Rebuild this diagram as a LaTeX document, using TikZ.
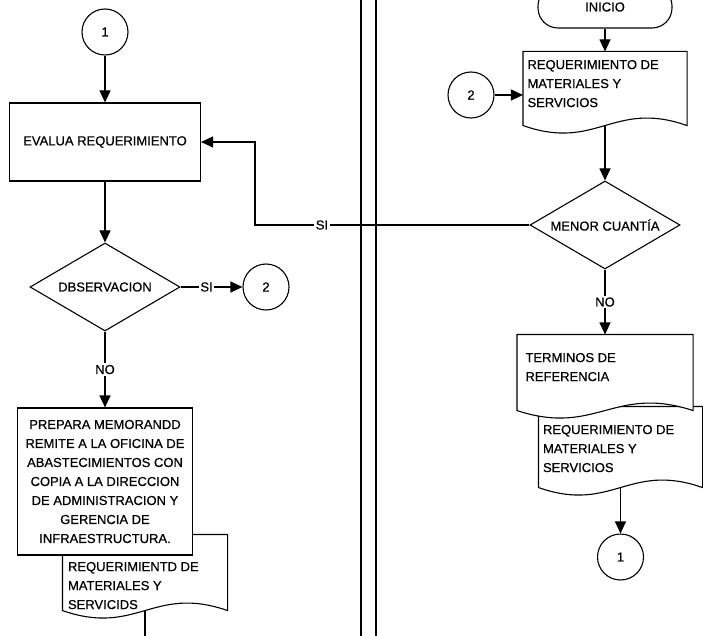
\documentclass[tikz,border=0pt]{standalone}
\usepackage{fontspec}
\setmainfont{Liberation Sans}[FakeBold=0.6]
\usetikzlibrary{shapes.geometric,arrows.meta,calc}

% document symbol drawn round an (empty) named node
\newcommand{\docshape}[1]{%
  \draw[docline] (#1.south west) -- (#1.north west) -- (#1.north east) -- (#1.south east)
    .. controls ($(#1.south east)!0.45!(#1.south west)+(0,-26)$)
    and ($(#1.south west)!0.45!(#1.south east)+(0,26)$) .. (#1.south west) -- cycle;}

\begin{document}
\begin{tikzpicture}[x=1pt, y=-1pt, line width=1.1pt,
    font=\fontsize{13}{19}\selectfont,
    arr/.style={-{Triangle[length=12pt,width=11pt]}},
    con/.style={draw, circle, minimum size=46, inner sep=0pt},
    box/.style={draw, fill=white, rectangle, inner sep=0pt},
    dec/.style={draw, fill=white, diamond, aspect=1.7, inner sep=0pt, minimum width=150, minimum height=88},
    term/.style={draw, rectangle, rounded corners=20pt, minimum width=134, minimum height=42, inner sep=0pt},
    docbox/.style={rectangle, inner sep=0pt},
    docline/.style={draw, fill=white},
    doctxt/.style={anchor=north west, inner sep=0pt, align=left},
    lbl/.style={fill=white, inner sep=1.5pt},
    lane/.style={line width=2.4pt}]
            \useasboundingbox (0,0) rectangle (703,636);
            \clip (0,0) rectangle (703,636);

            % Lanes
            \draw[lane] (361,-10) -- (361,650);
            \draw[lane] (376,-10) -- (376,650);

            % Left lane
            \node[con] (c1a) at (105,32) {1};
            \node[box, minimum width=191, minimum height=78] (evalua) at (105,142) {EVALUA REQUERIMIENTO};
            \node[dec] (obs) at (105,287) {DBSERVACION};
            \node[con] (c2a) at (266,287) {2};
            \node[docbox, minimum width=164, minimum height=75] (memo) at (145,572.5) {};
            \docshape{memo}
            \node[doctxt] (memot) at ([shift={(5,27)}]memo.north west) {REQUERIMIENTD DE\\MATERIALES Y\\SERVICIDS};
            \node[box, minimum width=175, minimum height=147, align=center] (prepara) at (105,481.5)
                {PREPARA MEMORANDD\\REMITE A LA OFICINA DE\\ABASTECIMIENTOS CON\\COPIA A LA DIRECCION\\DE ADMINISTRACION Y\\GERENCIA DE\\INFRAESTRUCTURA.};
            \coordinate (exitL) at (145,645);

            % Right lane
            \node[term] (inicio) at (605,7) {INICIO};
            \node[docbox, minimum width=163, minimum height=73] (reqA) at (605,88.5) {};
            \docshape{reqA}
            \node[doctxt] (reqAt) at ([shift={(4,8)}]reqA.north west) {REQUERIMIENTO DE\\MATERIALES Y\\SERVICIOS};
            \node[con] (c2b) at (471,95) {2};
            \node[dec] (menor) at (605,225) {MENOR CUANTÍA};
            \node[docbox, minimum width=163, minimum height=80] (reqB) at (620.5,447) {};
            \docshape{reqB}
            \node[doctxt] (reqBt) at ([shift={(4,18)}]reqB.north west) {REQUERIMIENTO DE\\MATERIALES Y\\SERVICIOS};
            \node[docbox, minimum width=175, minimum height=75] (tdr) at (605,372.5) {};
            \docshape{tdr}
            \node[doctxt] (tdrt) at ([shift={(8,18)}]tdr.north west) {TERMINOS DE\\REFERENCIA};
            \node[con] (c1b) at (620.5,557) {1};
            \coordinate (siturn) at (255,224);

            % Connectors
            \draw[arr] (c1a) -- (evalua);
            \draw[arr] (evalua) -- (obs);
            \draw[arr] (obs) -- node[lbl, pos=0.42] {SI} (c2a);
            \draw[arr] (obs) -- node[lbl] {NO} (prepara);
            \draw (memo.south) -- (exitL);
            \draw[arr] (inicio) -- (reqA);
            \draw[arr] (c2b) -- (c2b -| reqA.west);
            \draw[arr] (reqA) -- (menor);
            \draw[arr] (menor.west) -- node[lbl, pos=0.756] {SI} (menor.west -| siturn) |- (evalua.east);
            \draw[arr] (menor) -- node[lbl] {NO} (tdr);
            \draw[arr] (reqB) -- (c1b);
\end{tikzpicture}
\end{document}
